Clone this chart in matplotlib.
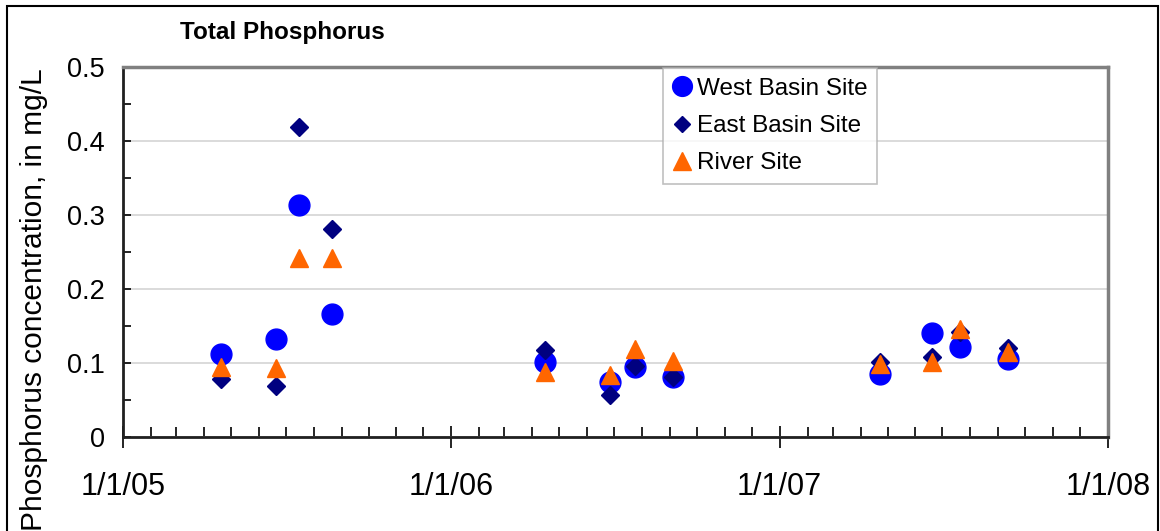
import datetime as dt
import matplotlib
matplotlib.use("Agg")
import matplotlib.pyplot as plt
import matplotlib.dates as mdates
from matplotlib.ticker import MultipleLocator, FuncFormatter
from matplotlib.patches import Rectangle

plt.rcParams['font.family'] = ['Liberation Sans', 'DejaVu Sans']

# sampling dates
dates = ["2005-04-20", "2005-06-20", "2005-07-16", "2005-08-21",
         "2006-04-15", "2006-06-26", "2006-07-24", "2006-09-04",
         "2007-04-22", "2007-06-19", "2007-07-21", "2007-09-12"]
west = [0.112, 0.132, 0.313, 0.166, 0.101, 0.074, 0.094, 0.081, 0.085, 0.140, 0.122, 0.105]
east = [0.079, 0.069, 0.419, 0.281, 0.118, 0.057, 0.096, 0.081, 0.102, 0.108, 0.142, 0.120]
river = [0.094, 0.093, 0.242, 0.242, 0.088, 0.084, 0.119, 0.103, 0.098, 0.102, 0.146, 0.115]

t = [dt.datetime.strptime(d, "%Y-%m-%d") for d in dates]

fig = plt.figure(figsize=(11.6, 5.31), dpi=100)
ax = fig.add_axes([123/1160, 1-437/531, (1108-123)/1160, (437-67)/531])

ax.plot(t, west, 'o', color='#0000FF', ms=15, mec='#0000FF', label='West Basin Site', zorder=3)
ax.plot(t, east, 'D', color='#000080', ms=9, mec='#000080', label='East Basin Site', zorder=4)
ax.plot(t, river, '^', color='#FF6600', ms=13, mec='#FF6600', label='River Site', zorder=5)

ax.set_xlim(dt.datetime(2005, 1, 1), dt.datetime(2008, 1, 1))
ax.set_ylim(0, 0.5)

ax.xaxis.set_major_locator(mdates.YearLocator())
ax.xaxis.set_minor_locator(mdates.MonthLocator())
ax.xaxis.set_major_formatter(FuncFormatter(
    lambda v, p: "1/1/%02d" % (mdates.num2date(v).year % 100)))
ax.yaxis.set_major_locator(MultipleLocator(0.1))
ax.yaxis.set_minor_locator(MultipleLocator(0.05))
ax.yaxis.set_major_formatter(FuncFormatter(lambda v, p: "%g" % round(v, 2)))

ax.tick_params(axis='x', which='major', direction='inout', length=16, width=1.2,
               labelsize=22, pad=17)
ax.tick_params(axis='x', which='minor', direction='in', length=7, width=1.2)
ax.tick_params(axis='y', which='both', direction='in', length=6, width=1.2,
               labelsize=19.5, pad=13)

ax.grid(axis='y', which='major', color='#d4d4d4', lw=1.2, zorder=0)
ax.set_axisbelow(True)
for s in ['left', 'bottom']:
    ax.spines[s].set_color('#202020')
    ax.spines[s].set_linewidth(2)
for s in ['top', 'right']:
    ax.spines[s].set_color('#808080')
    ax.spines[s].set_linewidth(2.5)

fig.text(34/1160, 1-300/531, 'Phosphorus concentration, in mg/L', fontsize=21.5,
         rotation=90, ha='center', va='center')

fig.text(180/1160, 1-33/531, 'Total Phosphorus', fontsize=17.5, fontweight='bold',
         va='center', ha='left')

leg = ax.legend(loc='upper left', bbox_to_anchor=((663-123)/985, 1-1/370),
                fontsize=17.5, markerscale=0.95, frameon=True, fancybox=False,
                edgecolor='#b0b0b0', handlelength=0.8, handletextpad=0.2,
                labelspacing=0.63, borderpad=0.4, borderaxespad=0)
leg.get_frame().set_linewidth(1.2)

fig.patches.append(Rectangle((7/1160, -0.05), 1151/1160, 1.05 - 6/531, transform=fig.transFigure,
                             fill=False, edgecolor='black', lw=1.5))

fig.savefig('out.png', dpi=100)
